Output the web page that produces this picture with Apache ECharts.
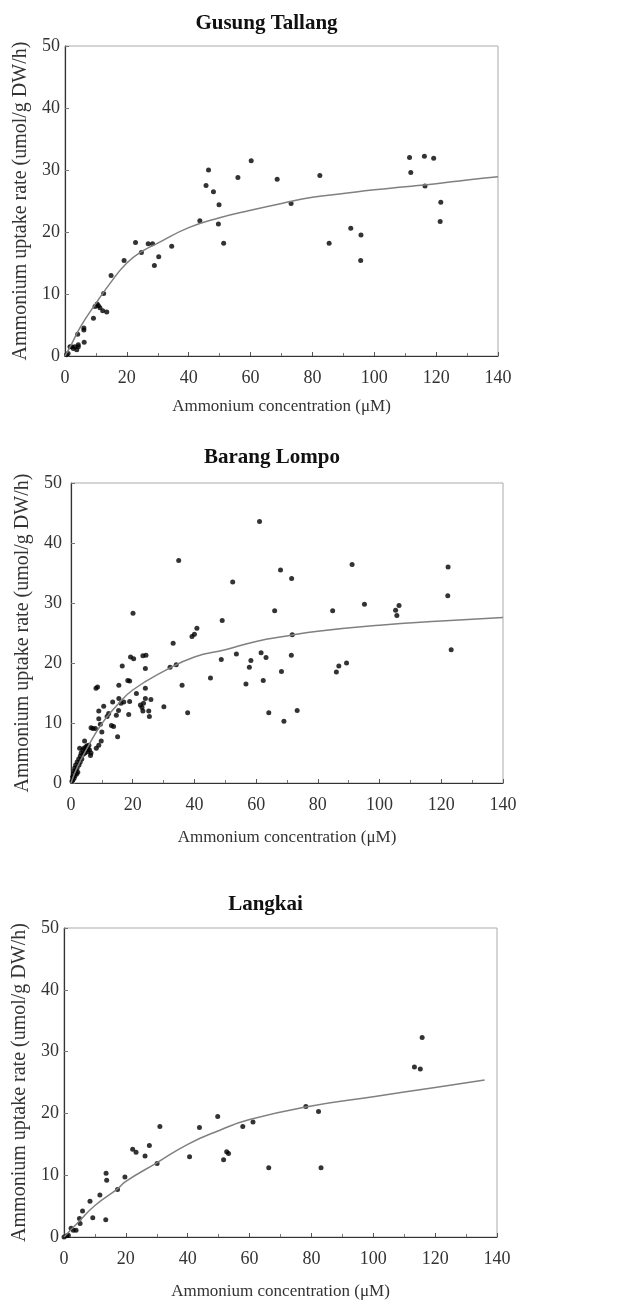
<!DOCTYPE html>
<html>
<head>
<meta charset="utf-8">
<script src="https://cdn.jsdelivr.net/npm/echarts@6/dist/echarts.min.js"></script>
<style>
  html, body { margin: 0; padding: 0; background: #fff; }
  #chart { width: 636px; height: 1301px; }
</style>
</head>
<body>
<div id="chart"></div>
<script>
  // site names
  var sites = ['Gusung Tallang', 'Barang Lompo', 'Langkai'];

  // measured points [concentration, uptake]
  var gusungPts = [
    [0.5,0.2],[1,0.4],[1.6,1.5],[2.2,1.5],[2.7,1.2],[3.2,1.5],[3.8,1],[4.3,1.5],[4.1,3.5],[4.3,1.8],
    [6.1,4.5],[6.1,4.2],[6.2,2.2],[9.2,6.1],[9.7,8],[10.4,8.4],[10.8,8.1],[11.3,7.8],[12.2,7.3],[13.5,7.1],
    [12.5,10.1],[14.9,13],[19.1,15.4],[22.8,18.3],[24.7,16.7],[26.9,18.1],[28.3,18.1],[28.9,14.6],[30.3,16],
    [34.5,17.7],[43.6,21.8],[45.6,27.5],[46.4,30],[48,26.5],[49.8,24.4],[49.6,21.3],[51.3,18.2],[55.9,28.8],
    [60.2,31.5],[68.6,28.5],[73.1,24.6],[82.4,29.1],[85.4,18.2],[92.4,20.6],[95.7,19.5],[95.6,15.4],
    [111.4,32],[111.8,29.6],[116.2,32.2],[116.4,27.4],[119.2,31.9],[121.5,24.8],[121.3,21.7]
  ];
  var barangPts = [
    [0.3,0.3],[0.5,1],[0.6,0.5],[0.8,1.5],[1,2],[1,0.8],[1.2,2.5],[1.3,1.2],[1.5,3],[1.6,2],[1.8,1.5],
    [2,3.5],[2,2.5],[2.2,1.8],[2.5,4],[2.6,3],[3,4.5],[3,3.5],[3.3,5],[3.5,4],[3.8,5.5],[4,4.8],[4.2,5.8],
    [4.5,5],[4.8,6],[5,5.5],[5.2,6.2],[5.5,5.8],[5.8,6.3],[6,5.5],[6.5,5],
    [2.8,5.8],[4.4,7],[5.4,5.2],[6.3,4.6],[6.5,9.2],[7.1,9.1],[7.9,9.1],[8.1,15.8],[8.6,16],[8.2,5.8],
    [9,6.3],[9.8,7],[9,10.7],[9.5,9.8],[9,12],[10,8.5],[10.6,12.8],[11.7,11.1],[12.2,11.6],[13.5,13.5],
    [13.1,9.6],[13.8,9.4],[15.1,7.7],[14.7,11.3],[15.4,12.1],[15.5,16.3],[15.5,14.1],[16.2,13.3],[16.6,19.5],
    [17.1,13.5],[18.4,17.1],[19,17],[18.7,11.4],[19,13.6],[19.3,21],[20.1,28.3],[20.3,20.7],[21.2,14.9],
    [22.5,13],[23,12.6],[23.3,21.2],[24.3,21.3],[24.1,19.1],[24.1,15.8],[24.1,14.1],[23.3,12],[23.5,13.3],
    [25.2,12],[25.4,11.1],[25.9,13.9],[30.1,12.7],[32.1,19.3],[33.1,23.3],[34.1,19.7],[34.9,37.1],[36,16.3],
    [37.8,11.7],[39.2,24.4],[40,24.8],[40.8,25.8],[45.2,17.5],[49,27.1],[48.7,20.6],[52.4,33.5],[53.6,21.5],
    [56.7,16.5],[57.8,19.3],[58.3,20.4],[61.1,43.6],[61.6,21.7],[62.3,17.1],[63.2,20.9],[64.1,11.7],[66,28.7],
    [67.9,35.5],[68.2,18.6],[69,10.3],[71.5,34.1],[71.7,24.7],[71.4,21.3],[73.3,12.1],[84.8,28.7],[86,18.5],
    [86.8,19.5],[89.3,20],[91.1,36.4],[95.1,29.8],[105.2,28.8],[105.6,27.9],[106.3,29.6],[122.2,36],
    [122.1,31.2],[123.2,22.2]
  ];
  var langkaiPts = [
    [0,0],[0.9,0.2],[1.4,0.3],[2.3,1.4],[3,1.1],[3.9,1.1],[5,3],[5.2,2.2],[6,4.2],[8.4,5.8],[9.3,3.1],
    [11.6,6.8],[13.5,2.8],[13.6,10.3],[13.8,9.2],[17.3,7.7],[19.7,9.7],[22.2,14.2],[23.3,13.7],[26.2,13.1],
    [27.6,14.8],[30.1,11.9],[31,17.9],[40.6,13],[43.8,17.7],[49.7,19.5],[51.6,12.5],[52.6,13.8],[53.2,13.5],
    [57.8,17.9],[61.1,18.6],[66.2,11.2],[78.2,21.1],[82.3,20.3],[83.1,11.2],[113.3,27.5],[115.2,27.2],[115.8,32.3]
  ];

  // fitted curves
  var gusungFit = [[0,0],[2,1.8],[5,4.7],[10,8.5],[15,12],[20,15],[25,16.9],[30,18.2],[40,20.7],[50,22.3],
    [60,23.5],[70,24.6],[80,25.6],[90,26.2],[100,26.8],[110,27.3],[120,27.8],[130,28.4],[140,28.9]];
  var barangFit = [[0,0],[2,2.6],[5,5.6],[10,9.9],[15,13],[20,15.5],[30,18.6],[40,21],[50,22.2],[60,23.6],
    [70,24.5],[80,25.3],[100,26.3],[120,27],[140,27.6]];
  var langkaiFit = [[0,0],[5,2.6],[10,5.1],[17.3,7.8],[20,9],[30,12],[40,15],[50,17.2],[60,19],[80,21.2],
    [100,22.7],[120,24.2],[136,25.4]];

  var serif = 'Liberation Serif';
  var grids = [
    {left: 65, width: 433, top: 46, height: 310},
    {left: 71, width: 432, top: 483, height: 300},
    {left: 64, width: 433, top: 928, height: 309}
  ];
  var titleTops = [21, 455, 902];
  var xLabelGap = [42, 46, 46];
  var yLabelGap = [31, 29, 29];
  var yTickMargin = [5, 9, 5];

  var chart = echarts.init(document.getElementById('chart'));
  var option = {
    backgroundColor: '#fff',
    animation: false,
    title: [],
    grid: [],
    xAxis: [],
    yAxis: [],
    series: []
  };

  var ptsAll = [gusungPts, barangPts, langkaiPts];
  var fitAll = [gusungFit, barangFit, langkaiFit];

  for (var i = 0; i < 3; i++) {
    option.title.push({
      text: sites[i],
      left: grids[i].left + grids[i].width / 2 - 20,
      top: titleTops[i] - 13,
      textAlign: 'center',
      textStyle: {fontFamily: serif, fontWeight: 'bold', fontSize: 21, color: '#111'}
    });
    option.grid.push({
      left: grids[i].left, width: grids[i].width, top: grids[i].top, height: grids[i].height,
      show: true, borderColor: '#aaa', borderWidth: 1, backgroundColor: '#fff'
    });
    option.xAxis.push({
      gridIndex: i, type: 'value', min: 0, max: 140, interval: 20,
      name: 'Ammonium concentration (μM)', nameLocation: 'middle', nameGap: xLabelGap[i],
      nameTextStyle: {fontFamily: serif, fontSize: 17, color: '#333'},
      axisLine: {lineStyle: {color: '#333', width: 1.2}},
      axisTick: {inside: true, length: 4, lineStyle: {color: '#555'}},
      minorTick: {show: true, splitNumber: 2, length: 3, lineStyle: {color: '#777'}},
      axisLabel: {fontFamily: serif, fontSize: 18, color: '#333', margin: 13},
      splitLine: {show: false}
    });
    option.yAxis.push({
      gridIndex: i, type: 'value', min: 0, max: 50, interval: 10,
      name: 'Ammonium uptake rate (umol/g DW/h)', nameLocation: 'middle', nameGap: yLabelGap[i],
      nameTextStyle: {fontFamily: serif, fontSize: 20, color: '#333'},
      axisLine: {show: true, lineStyle: {color: '#333', width: 1.2}},
      axisTick: {show: true, inside: true, length: 4, lineStyle: {color: '#777'}},
      axisLabel: {fontFamily: serif, fontSize: 18, color: '#333', margin: yTickMargin[i]},
      splitLine: {show: false}
    });
    option.series.push({
      type: 'line', xAxisIndex: i, yAxisIndex: i, data: fitAll[i],
      smooth: true, showSymbol: false, silent: true,
      lineStyle: {color: '#808080', width: 1.5}
    });
    option.series.push({
      type: 'scatter', xAxisIndex: i, yAxisIndex: i, data: ptsAll[i],
      symbolSize: 5, itemStyle: {color: '#000'}
    });
  }

  chart.setOption(option);
</script>
</body>
</html>
